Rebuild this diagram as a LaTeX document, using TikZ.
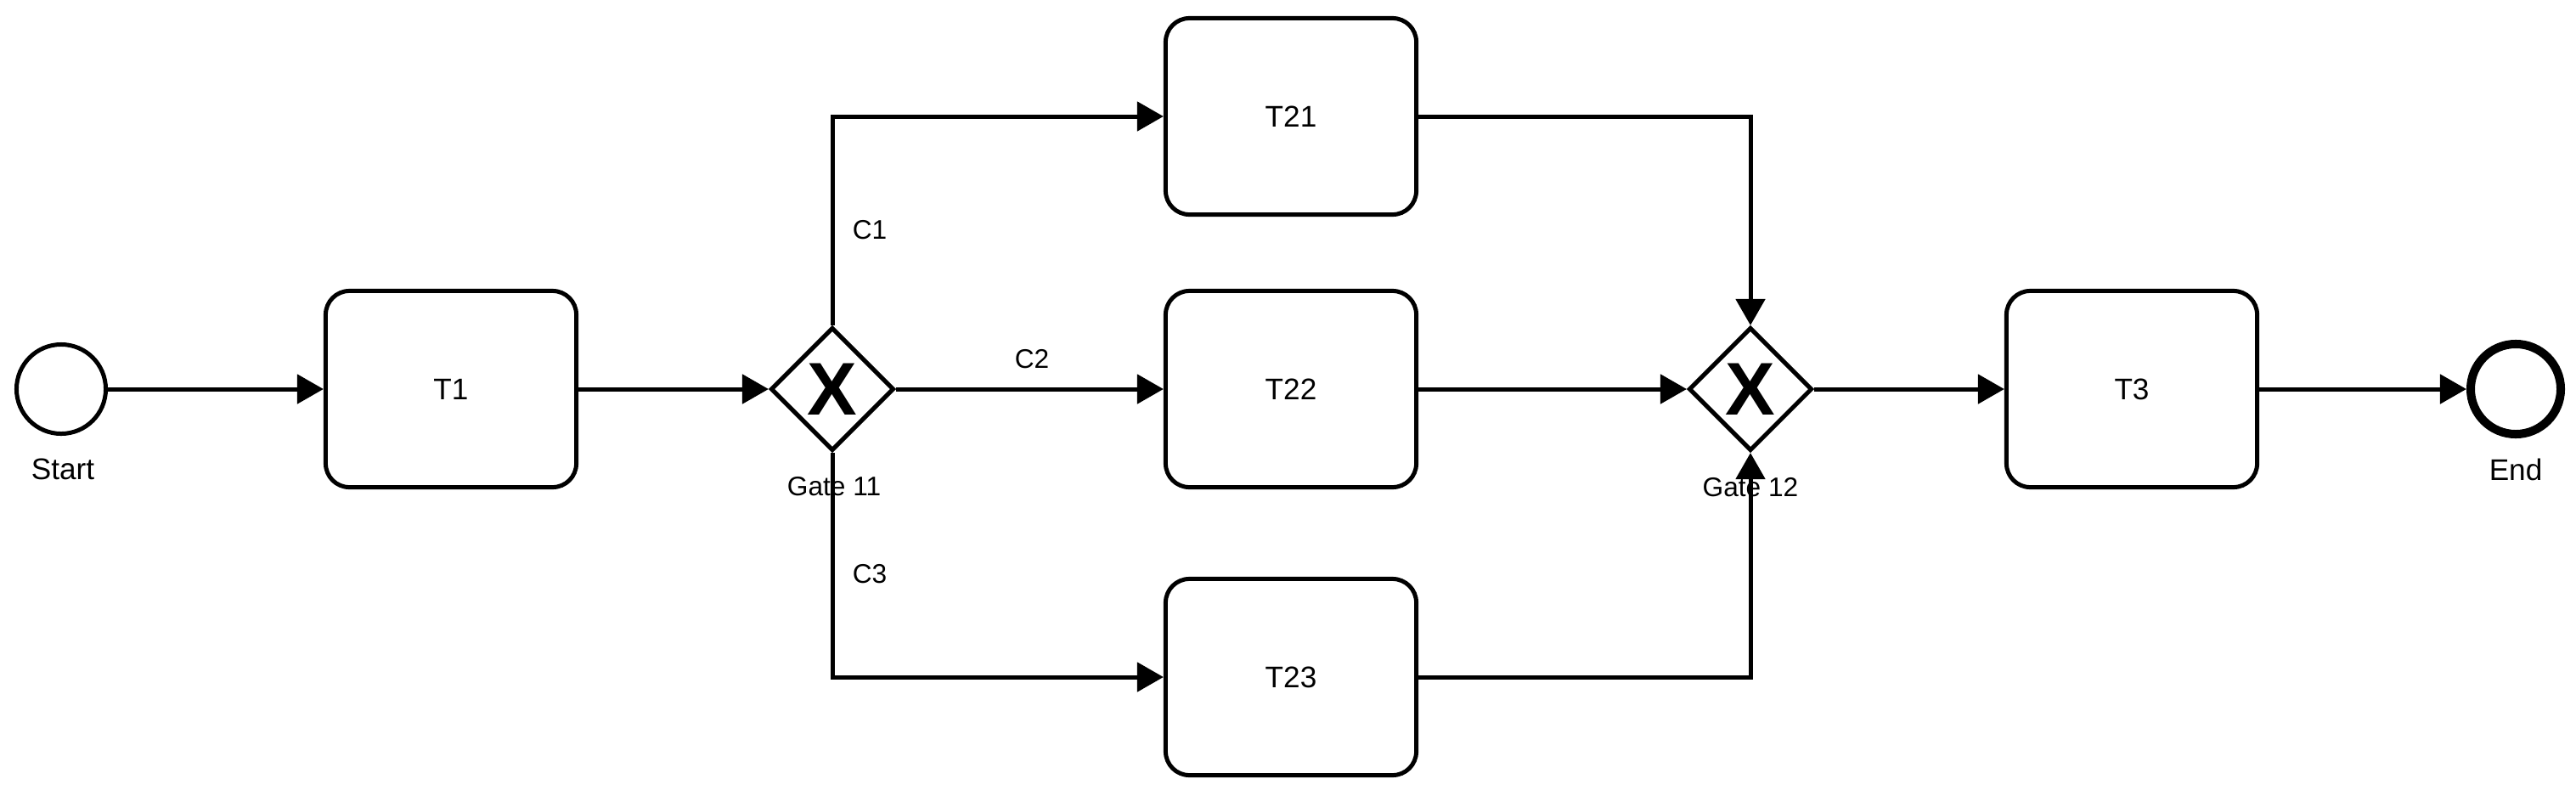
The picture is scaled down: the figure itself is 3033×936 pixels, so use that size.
\documentclass[tikz,border=0pt]{standalone}
\usepackage{fontspec}
\setmainfont{Liberation Sans}
\usetikzlibrary{shapes.geometric,arrows.meta,positioning}
\begin{document}
\begin{tikzpicture}[x=0.01cm,y=-0.01cm,
  line width=1.42pt,
  task/.style={draw,rounded corners=0.28cm,minimum width=2.95cm,minimum height=2.31cm,font=\fontsize{10}{12}\selectfont,inner sep=0},
  gate/.style={draw,diamond,aspect=1,minimum width=1.45cm,minimum height=1.45cm,inner sep=0,font=\fontsize{25}{25}\selectfont\bfseries},
  evstart/.style={draw,circle,minimum size=1.05cm,inner sep=0},
  evend/.style={draw,circle,line width=2.85pt,minimum size=1.06cm,inner sep=0},
  lbl/.style={font=\fontsize{10}{12}\selectfont,inner sep=0},
  glbl/.style={font=\fontsize{9}{11}\selectfont,inner sep=0},
  flow/.style={-{Triangle[length=0.31cm,width=0.34cm]},line join=miter}
]
\useasboundingbox (0,0) rectangle (3033,936);
\node[evstart] (start) at (72,458) {};
\node[lbl] (startl) at (74,552) {Start};
\node[task] (t1) at (531,458) {T1};
\node[gate] (g11) at (980,458) {X};
\node[glbl] (g11l) at (982,573) {Gate 11};
\node[task] (t21) at (1520,137) {T21};
\node[task] (t22) at (1520,458) {T22};
\node[task] (t23) at (1520,797) {T23};
\node[gate] (g12) at (2061,458) {X};
\node[glbl] (g12l) at (2061,574) {Gate 12};
\node[task] (t3) at (2510,458) {T3};
\node[evend] (end) at (2962,458) {};
\node[lbl] (endl) at (2962,553) {End};

\draw[flow] (start) -- (t1);
\draw[flow] (t1) -- (g11);
\draw[flow] (g11.north) |- (t21.west);
\draw[flow] (g11) -- (t22);
\draw[flow] (g11.south) |- (t23.west);
\draw[flow] (t21.east) -| (g12.north);
\draw[flow] (t22) -- (g12);
\draw[flow] (t23.east) -| (g12.south);
\draw[flow] (g12) -- (t3);
\draw[flow] (t3) -- (end);

\node[glbl] (c1) at (1024,271) {C1};
\node[glbl] (c2) at (1215,423) {C2};
\node[glbl] (c3) at (1024,676) {C3};
\end{tikzpicture}
\end{document}
